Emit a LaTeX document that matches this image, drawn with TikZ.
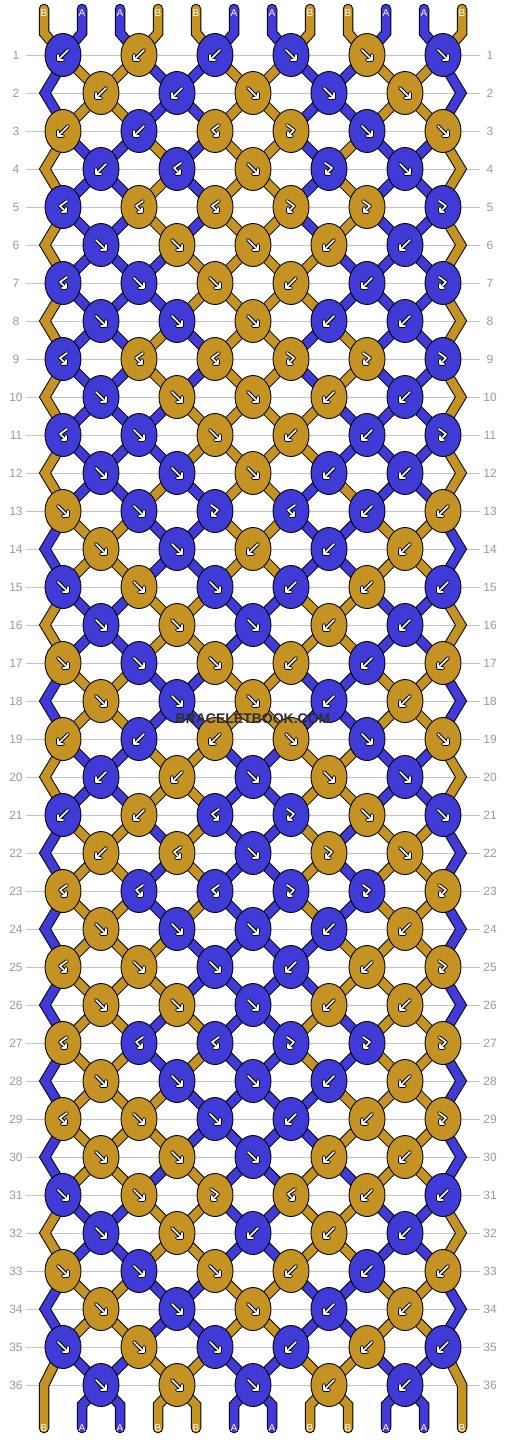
\documentclass[tikz,border=0pt]{standalone}
\usepackage{fontspec}
\setmainfont{Liberation Sans}
\usepackage{tikz}
\usetikzlibrary{shapes.geometric, positioning}

\definecolor{threadA}{HTML}{403AD6}
\definecolor{threadB}{HTML}{C49324}
\definecolor{rulegray}{HTML}{C4C4C4}
\definecolor{numgray}{HTML}{9A9A9A}
\definecolor{markgray}{HTML}{2E2E2E}

\pgfdeclarelayer{paper}
\pgfdeclarelayer{threads}
\pgfsetlayers{paper,threads,main}

\tikzstyle{knot} = [ellipse, minimum width=36pt, minimum height=43pt, inner sep=0pt, draw=black, line width=0.9pt]
\tikzstyle{thread} = [line width=8.5pt, line cap=round, preaction={draw=black, line width=10.5pt, line cap=round}]
\tikzstyle{knotsym} = [draw=white, line width=1.7pt, line cap=round, line join=round, preaction={draw=black, line width=3.6pt, line cap=round, line join=round}]
\tikzstyle{rownum} = [minimum width=20pt, inner sep=0pt, text=numgray, font=\fontsize{12}{12}\selectfont]
\tikzstyle{endlabel} = [inner sep=0pt, text=white, font=\fontsize{10}{10}\selectfont]
\tikzstyle{gridline} = [draw=rulegray, line width=0.9pt]
\tikzstyle{watermark} = [text=markgray, font=\fontsize{14}{14}\selectfont\bfseries]

\tikzset{
  fwdsym/.pic={\path[knotsym] (-5,-5) -- (5,5) (0,5) -- (5,5) -- (5,0);},
  bwdsym/.pic={\path[knotsym] (5,-5) -- (-5,5) (0,5) -- (-5,5) -- (-5,0);},
  fbsym/.pic={\path[knotsym] (-4,-6) -- (3,-1) -- (-3,5) (-3,1) -- (-3,5) -- (1,5);},
  bfsym/.pic={\path[knotsym] (4,-6) -- (-3,-1) -- (3,5) (3,1) -- (3,5) -- (-1,5);}
}

% colour of the thread at each position
\newcommand{\setthread}[2]{\expandafter\xdef\csname thr#1\endcsname{#2}}
\newcommand{\getthread}[1]{\csname thr#1\endcsname}
\def\codeF{f}\def\codeB{b}\def\codeFB{fb}\def\codeBF{bf}

\begin{document}
\begin{tikzpicture}[x=1pt, y=-1pt]
\useasboundingbox (0,0) rectangle (506,1440);
\begin{pgfonlayer}{paper}
  \fill[white] (0,0) rectangle (506,1440);
\end{pgfonlayer}

% Row numbers and rules
\foreach \rw in {1,...,36} {
  \node[rownum] (nl-\rw) at (16,17+38*\rw) {\rw};
  \node[rownum] (nr-\rw) at (490,17+38*\rw) {\rw};
  \begin{pgfonlayer}{paper}
    \draw[gridline] (nl-\rw) -- (nr-\rw);
  \end{pgfonlayer}
}

% Thread ends at the top
\foreach \lt [count=\i from 0] in {B,A,A,B,B,A,A,B,B,A,A,B} {
  \setthread{\i}{\lt}
  \coordinate (top-\i) at (44+38*\i,9);
  \coordinate (bot-\i) at (44+38*\i,1428);
  \node[endlabel] (tl-\i) at (44+38*\i,13) {\lt};
}

% Knots, row by row
\foreach \knots [count=\rw] in {%
{b,b,b,f,f,f},%
{b,b,f,f,f},%
{b,b,bf,fb,f,f},%
{b,bf,f,fb,f},%
{bf,bf,bf,fb,fb,fb},%
{f,f,f,b,b},%
{bf,f,f,b,b,fb},%
{f,f,f,b,b},%
{bf,bf,bf,fb,fb,fb},%
{f,f,f,b,b},%
{bf,f,f,b,b,fb},%
{f,f,f,b,b},%
{f,f,fb,bf,b,b},%
{f,f,b,b,b},%
{f,f,f,b,b,b},%
{f,f,f,b,b},%
{f,f,f,b,b,b},%
{f,f,f,b,b},%
{b,b,b,f,f,f},%
{b,b,f,f,f},%
{b,b,bf,fb,f,f},%
{b,bf,f,fb,f},%
{bf,bf,bf,fb,fb,fb},%
{f,f,f,b,b},%
{bf,f,f,b,b,fb},%
{f,f,f,b,b},%
{bf,bf,bf,fb,fb,fb},%
{f,f,f,b,b},%
{bf,f,f,b,b,fb},%
{f,f,f,b,b},%
{f,f,fb,bf,b,b},%
{f,f,b,b,b},%
{f,f,f,b,b,b},%
{f,f,f,b,b},%
{f,f,f,b,b,b},%
{f,f,f,b,b}%
}{
  \pgfmathtruncatemacro\rowy{17+38*\rw}
  \ifodd\rw\relax \def\off{0}\else \def\off{1}\fi
  \foreach \kt [count=\kn from 0] in \knots {
    \pgfmathtruncatemacro\lp{2*\kn+\off}
    \pgfmathtruncatemacro\rp{\lp+1}
    \pgfmathtruncatemacro\kx{63+76*\kn+38*\off}
    \edef\ktype{\kt}
    \edef\kcol{\getthread{\lp}}
    \def\kswap{0}
    \ifx\ktype\codeB \edef\kcol{\getthread{\rp}}\def\kswap{1}\fi
    \ifx\ktype\codeBF \edef\kcol{\getthread{\rp}}\fi
    \ifx\ktype\codeF \def\kswap{1}\fi
    \expandafter\xdef\csname swap\kn\endcsname{\kswap}
    \edef\kfill{thread\kcol}
    \node[knot, fill=\kfill] (k-\rw-\kn) at (\kx,\rowy) {};
    \ifx\ktype\codeF \pic at (k-\rw-\kn) {fwdsym};\fi
    \ifx\ktype\codeB \pic at (k-\rw-\kn) {bwdsym};\fi
    \ifx\ktype\codeFB \pic at (k-\rw-\kn) {fbsym};\fi
    \ifx\ktype\codeBF \pic at (k-\rw-\kn) {bfsym};\fi
  }
  % threads coming into this row
  \begin{pgfonlayer}{threads}
  \ifnum\rw=1\relax
    \foreach \i in {0,...,11} {
      \pgfmathtruncatemacro\ki{\i/2}
      \edef\scol{thread\getthread{\i}}
      \draw[thread, draw=\scol] (top-\i) -- ([yshift=-24pt]top-\i) -- (k-1-\ki.center);
    }
  \else
    \pgfmathtruncatemacro\prw{\rw-1}
    \pgfmathtruncatemacro\offp{1-\off}
    \foreach \pos in {1,...,10} {
      \pgfmathtruncatemacro\pa{(\pos-\offp)/2}
      \pgfmathtruncatemacro\pb{(\pos-\off)/2}
      \edef\scol{thread\getthread{\pos}}
      \draw[thread, draw=\scol] (k-\prw-\pa.center) -- (k-\rw-\pb.center);
    }
    \ifodd\rw\relax
      \pgfmathtruncatemacro\pprw{\rw-2}
      \edef\scol{thread\getthread{0}}
      \draw[thread, draw=\scol] (k-\pprw-0.center) -- ++(-6,18) -- ++(-12,20) -- ++(12,20) -- (k-\rw-0.center);
      \edef\scol{thread\getthread{11}}
      \draw[thread, draw=\scol] (k-\pprw-5.center) -- ++(6,18) -- ++(12,20) -- ++(-12,20) -- (k-\rw-5.center);
    \fi
  \fi
  \end{pgfonlayer}
  % swap the threads that cross
  \pgfmathtruncatemacro\nk{5-\off}
  \foreach \kn in {0,...,\nk} {
    \ifnum\csname swap\kn\endcsname=1\relax
      \pgfmathtruncatemacro\lp{2*\kn+\off}
      \pgfmathtruncatemacro\rp{\lp+1}
      \edef\lcol{\getthread{\lp}}
      \edef\rcol{\getthread{\rp}}
      \setthread{\lp}{\rcol}
      \setthread{\rp}{\lcol}
    \fi
  }
}

% Thread ends at the bottom
\begin{pgfonlayer}{threads}
\foreach \i in {1,...,10} {
  \pgfmathtruncatemacro\ki{(\i-1)/2}
  \edef\scol{thread\getthread{\i}}
  \draw[thread, draw=\scol] (k-36-\ki.center) -- ([yshift=23pt]bot-\i) -- (bot-\i);
}
\edef\scol{thread\getthread{0}}
\draw[thread, draw=\scol] (k-35-0.center) -- ([yshift=43pt]bot-0) -- (bot-0);
\edef\scol{thread\getthread{11}}
\draw[thread, draw=\scol] (k-35-5.center) -- ([yshift=43pt]bot-11) -- (bot-11);
\end{pgfonlayer}
\foreach \i in {0,...,11} {
  \node[endlabel] (bl-\i) at (bot-\i) {\getthread{\i}};
}

\node[watermark] (mark) at (253,719) {BRACELETBOOK.COM};
\end{tikzpicture}
\end{document}
